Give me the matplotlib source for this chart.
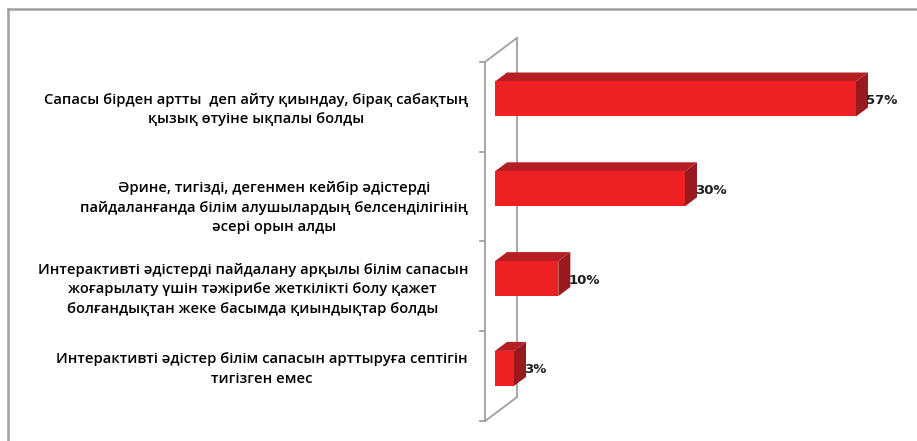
import matplotlib
matplotlib.use("Agg")
import matplotlib.pyplot as plt
from matplotlib.patches import Polygon, Rectangle
from matplotlib.lines import Line2D

# ---- data ----
categories = [
    "Сапасы бірден артты  деп айту қиындау, бірақ сабақтың\nқызық өтуіне ықпалы болды",
    "Әрине, тигізді, дегенмен кейбір әдістерді\nпайдаланғанда білім алушылардың белсенділігінің\nәсері орын алды",
    "Интерактивті әдістерді пайдалану арқылы білім сапасын\nжоғарылату үшін тәжірибе жеткілікті болу қажет\nболғандықтан жеке басымда қиындықтар болды",
    "Интерактивті әдістер білім сапасын арттыруға септігін\nтигізген емес",
]
values = [57, 30, 10, 3]
value_labels = ["57%", "30%", "10%", "3%"]

# ---- layout (pixels) ----
W, H = 917, 441
DPI = 100
x0_px = 495.0          # pixel of value 0 (bar front face)
ppp = 6.333            # pixels per percent
y0_px = 99.0           # pixel of first category centre (bar front)
cat_px = 89.8          # pixels per category
bar_h_px = 35.0
dx_px, dy_px = 12.0, 9.0       # bar depth
wall_dx_px, wall_dy_px = 32.0, 24.0
front_off_x_px, front_off_y_px = -10.0, 7.8
label_shift_px = [2.5, 11.0, 3.0, -7.0]   # vertical nudges of category labels

front_col = "#ED2024"
top_col = "#B51F24"
side_col = "#991A1E"
wall_col = "#A0A0A0"

fig = plt.figure(figsize=(W / DPI, H / DPI), dpi=DPI)
ax = fig.add_axes([0, 0, 1, 1])
ax.set_xlim(-x0_px / ppp, (W - x0_px) / ppp)
ax.set_ylim((H - y0_px) / cat_px, -y0_px / cat_px)
ax.axis("off")

dx = dx_px / ppp
dy = dy_px / cat_px
hh = bar_h_px / 2 / cat_px

# walls (behind bars)
fx = front_off_x_px / ppp
fy = front_off_y_px / cat_px
wdx = wall_dx_px / ppp
wdy = wall_dy_px / cat_px
n = len(values)
top = -0.5 + fy
bot = n - 0.5 + fy
lw = 1.3
kw = dict(color=wall_col, lw=lw, zorder=1)
ax.plot([fx, fx], [top, bot], **kw)
ax.plot([fx + wdx, fx + wdx], [top - wdy, bot - wdy], **kw)
ax.plot([fx, fx + wdx], [top, top - wdy], **kw)
ax.plot([fx, fx + wdx], [bot, bot - wdy], **kw)
tick_len = 5.0 / ppp
for k in range(n + 1):
    yk = -0.5 + k + fy
    ax.plot([fx - tick_len, fx], [yk, yk], **kw)

# bars
for i, v in enumerate(values):
    yt, yb = i - hh, i + hh
    ax.add_patch(Polygon([(0, yt), (v, yt), (v + dx, yt - dy), (dx, yt - dy)],
                         closed=True, facecolor=top_col, edgecolor="none", zorder=3))
    ax.add_patch(Polygon([(v, yt), (v + dx, yt - dy), (v + dx, yb - dy), (v, yb)],
                         closed=True, facecolor=side_col, edgecolor="none", zorder=3))
    ax.add_patch(Rectangle((0, yt), v, yb - yt, facecolor=front_col,
                           edgecolor="none", zorder=4))
    ax.text(v + 10.0 / ppp, i + 1.5 / cat_px, value_labels[i], ha="left", va="center",
            fontsize=9.5, fontweight="bold", color="#1F1F1F", family="DejaVu Sans",
            zorder=5)

# category labels
lab_x = (468 - x0_px) / ppp
for i, c in enumerate(categories):
    ax.text(lab_x, i + fy + label_shift_px[i] / cat_px, c, ha="right", va="center",
            multialignment="center", fontsize=10.6, fontweight="semibold",
            color="#000000", family=["Open Sans", "DejaVu Sans"], linespacing=1.5)

# outer frame
fig.add_artist(Line2D([8 / W, 8 / W], [0, 1 - 9 / H], transform=fig.transFigure,
                      color=wall_col, lw=1.8))
fig.add_artist(Line2D([8 / W, 1], [1 - 9 / H, 1 - 9 / H], transform=fig.transFigure,
                      color=wall_col, lw=1.8))

fig.savefig("out.png", dpi=DPI)
